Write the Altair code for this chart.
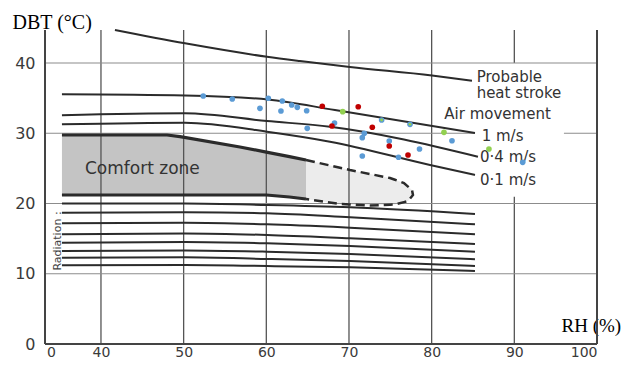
import altair as alt
import pandas as pd

# ---------------- data ----------------
X_MIN, X_MAX = 33.23, 100
Y_MIN, Y_MAX = 0, 44.7

X_TICKS = [33.96, 40, 50, 60, 70, 80, 90, 100]
Y_TICKS = [0, 10, 20, 30, 40]

HEAT_X = [41.69, 50.16, 60.08, 64.07, 70.12, 80.04, 84.88]
HEAT_Y = [44.70, 42.80, 40.89, 40.28, 39.43, 38.22, 37.48]

AIR1_X = [35.28, 50.16, 60.20, 68.30, 85.24]
AIR1_Y = [35.55, 35.38, 34.80, 33.31, 30.04]
AIR04_X = [35.28, 50.16, 60.08, 67.70, 85.60]
AIR04_Y = [32.56, 32.84, 31.74, 30.93, 26.66]
AIR01_X = [35.28, 50.16, 60.08, 67.70, 79.80, 85.24]
AIR01_Y = [31.27, 31.50, 30.22, 28.80, 25.48, 24.06]

COMFORT_X = [35.28, 48.0, 49.56, 56.81, 60.0, 62.8, 64.80]
COMFORT_TOP = [29.75, 29.75, 29.51, 28.05, 27.32, 26.68, 26.19]
COMFORT_BOT = [21.21, 21.21, 21.21, 21.21, 21.21, 20.93, 20.64]

ELL_X = [64.80, 68.91, 70.12, 72.54, 74.96, 75.56, 76.65, 77.14, 77.62, 77.74]
ELL_TOP = [26.19, 25.09, 24.77, 24.20, 23.63, 23.38, 22.92, 22.41, 21.92, 21.21]
ELL_BOT = [20.64, 19.93, 19.86, 19.72, 19.83, 19.86, 20.20, 20.36, 21.04, 21.21]

RAD_X = [35.28, 50.16, 60.08, 70.12, 85.24]
RAD_Y = [
    [20.00, 20.00, 19.79, 19.46, 18.51],
    [18.69, 18.75, 18.60, 18.04, 17.04],
    [17.18, 17.27, 17.04, 16.56, 15.62],
    [15.62, 15.73, 15.52, 15.05, 14.23],
    [14.42, 14.52, 14.33, 13.95, 13.14],
    [13.24, 13.31, 13.14, 12.81, 12.06],
    [12.28, 12.34, 12.10, 11.81, 11.10],
    [11.20, 11.25, 11.10, 10.92, 10.39],
]

BLUE_X = [52.37, 55.88, 59.23, 60.24, 61.93, 61.77, 63.07, 63.75, 64.88, 64.95, 68.25,
          71.85, 71.61, 71.61, 73.95, 74.87, 75.99, 77.38, 78.53, 82.46, 91.01]
BLUE_Y = [35.30, 34.88, 33.55, 34.98, 34.59, 33.17, 34.02, 33.69, 33.21, 30.70, 31.46,
          29.99, 29.37, 26.76, 31.89, 28.90, 26.58, 31.27, 27.76, 28.94, 25.86]
RED_X = [66.77, 67.94, 71.12, 72.82, 74.87, 77.14]
RED_Y = [33.84, 31.03, 33.78, 30.85, 28.19, 26.90]
GREEN_X = [69.24, 81.49, 86.93]
GREEN_Y = [33.07, 30.13, 27.76]
GREEN_INNER_X = [73.95, 77.38]
GREEN_INNER_Y = [31.89, 31.27]

LABELS = ["Probable", "heat stroke", "Air movement", "1  m/s", "0·4 m/s", "0·1 m/s"]
LABEL_X = [85.44, 85.44, 81.53, 86.05, 85.85, 85.85]
LABEL_Y = [38.05, 35.75, 32.74, 29.61, 26.55, 23.35]

# ---------------- helpers ----------------
xs = alt.Scale(domain=[X_MIN, X_MAX], nice=False, zero=False)
ys = alt.Scale(domain=[Y_MIN, Y_MAX], nice=False, zero=False)

X_AXIS = alt.Axis(
    values=X_TICKS, labelExpr="datum.value < 35 ? '0' : datum.label", format="d",
    grid=False, ticks=False, tickSize=0, domain=False, labelPadding=1,
    labelFont="DejaVu Sans", labelFontSize=14, labelColor="#3a3a3a",
    title="RH (%)", titleFont="Liberation Serif", titleFontSize=19, titleFontWeight="normal",
    titleColor="black", titleX=516, titleY=-13, titleAlign="left", titleBaseline="alphabetic")
Y_AXIS = alt.Axis(
    values=Y_TICKS, grid=False, ticks=False, tickSize=0, domain=False, labelPadding=10,
    labelFont="DejaVu Sans", labelFontSize=16, labelColor="#3a3a3a",
    title="DBT (°C)", titleAngle=0, titleFont="Liberation Serif", titleFontSize=20,
    titleFontWeight="normal", titleColor="black", titleX=-33, titleY=-2,
    titleAlign="left", titleBaseline="alphabetic")


def X(field="x"):
    return alt.X(f"{field}:Q", scale=xs, axis=X_AXIS)


def Y(field="y"):
    return alt.Y(f"{field}:Q", scale=ys, axis=Y_AXIS)


def series(name, xv, yv):
    return [{"s": name, "o": i, "x": a, "y": b} for i, (a, b) in enumerate(zip(xv, yv))]


# gridlines / frame
vgrid = []
for v in [40, 50, 60, 70, 80]:
    vgrid.append({"x": v, "x2": v, "y": Y_MIN, "y2": Y_MAX})
vgrid.append({"x": 90, "x2": 90, "y": 40, "y2": Y_MAX})
vgrid.append({"x": 90, "x2": 90, "y": Y_MIN, "y2": 20.97})
hgrid = []
for h in [10, 20, 40]:
    hgrid.append({"x": X_MIN, "x2": X_MAX, "y": h, "y2": h})
hgrid.append({"x": X_MIN, "x2": 85.24, "y": 30, "y2": 30})
hgrid.append({"x": 96.0, "x2": X_MAX, "y": 30, "y2": 30})
frame = [
    {"x": X_MIN, "x2": X_MIN, "y": Y_MIN, "y2": Y_MAX},
    {"x": X_MAX, "x2": X_MAX, "y": Y_MIN, "y2": Y_MAX},
    {"x": X_MIN, "x2": X_MAX, "y": Y_MIN, "y2": Y_MIN},
]

comfort_fill = alt.Chart(pd.DataFrame({"x": COMFORT_X, "y": COMFORT_TOP, "y2": COMFORT_BOT})).mark_area(
    color="#c4c4c4").encode(x=X(), y=Y(), y2="y2:Q")
ell_fill = alt.Chart(pd.DataFrame({"x": ELL_X, "y": ELL_TOP, "y2": ELL_BOT})).mark_area(
    color="#ececec").encode(x=X(), y=Y(), y2="y2:Q")

vg = alt.Chart(pd.DataFrame(vgrid)).mark_rule(color="#555555", strokeWidth=1.3).encode(
    x=X(), x2="x2:Q", y=Y(), y2="y2:Q")
hg = alt.Chart(pd.DataFrame(hgrid)).mark_rule(color="#8c8c8c", strokeWidth=1.2).encode(
    x=X(), x2="x2:Q", y=Y(), y2="y2:Q")
fr = alt.Chart(pd.DataFrame(frame)).mark_rule(color="#444444", strokeWidth=2).encode(
    x=X(), x2="x2:Q", y=Y(), y2="y2:Q")

curves = pd.DataFrame(
    series("heat", HEAT_X, HEAT_Y) + series("a1", AIR1_X, AIR1_Y)
    + series("a04", AIR04_X, AIR04_Y) + series("a01", AIR01_X, AIR01_Y)
    + sum([series(f"r{i}", RAD_X, r) for i, r in enumerate(RAD_Y)], [])
)
curve_layer = alt.Chart(curves).mark_line(color="#2b2b2b", strokeWidth=2, interpolate="monotone").encode(
    x=X(), y=Y(), detail="s:N", order="o:Q")

comfort_lines = pd.DataFrame(series("top", COMFORT_X, COMFORT_TOP) + series("bot", COMFORT_X, COMFORT_BOT))
comfort_layer = alt.Chart(comfort_lines).mark_line(color="#2b2b2b", strokeWidth=3.2).encode(
    x=X(), y=Y(), detail="s:N", order="o:Q")

dash_x = ELL_X + ELL_X[::-1][1:]
dash_y = ELL_TOP + ELL_BOT[::-1][1:]
dash_layer = alt.Chart(pd.DataFrame(series("d", dash_x, dash_y))).mark_line(
    color="#2b2b2b", strokeWidth=2.5, strokeDash=[9, 5]).encode(x=X(), y=Y(), order="o:Q")

labels = alt.Chart(pd.DataFrame({"t": LABELS, "x": LABEL_X, "y": LABEL_Y})).mark_text(
    align="left", baseline="middle", font="DejaVu Sans", fontSize=15, color="#333333").encode(
    x=X(), y=Y(), text="t:N")
comfort_text = alt.Chart(pd.DataFrame({"t": ["Comfort zone"], "x": [38.06], "y": [24.91]})).mark_text(
    align="left", baseline="middle", font="DejaVu Sans", fontSize=17, color="#333333").encode(
    x=X(), y=Y(), text="t:N")
rad_text = alt.Chart(pd.DataFrame({"t": ["Radiation :"], "x": [34.8], "y": [14.66]})).mark_text(
    align="center", baseline="middle", font="DejaVu Sans", fontSize=11, color="#444444", angle=270).encode(
    x=X(), y=Y(), text="t:N")

blue = alt.Chart(pd.DataFrame({"x": BLUE_X, "y": BLUE_Y})).mark_circle(size=32, color="#5b9bd5", opacity=1).encode(x=X(), y=Y())
red = alt.Chart(pd.DataFrame({"x": RED_X, "y": RED_Y})).mark_circle(size=32, color="#c00000", opacity=1).encode(x=X(), y=Y())
green = alt.Chart(pd.DataFrame({"x": GREEN_X, "y": GREEN_Y})).mark_circle(size=32, color="#92d050", opacity=1).encode(x=X(), y=Y())
green_in = alt.Chart(pd.DataFrame({"x": GREEN_INNER_X, "y": GREEN_INNER_Y})).mark_circle(size=8, color="#92d050", opacity=1).encode(x=X(), y=Y())

chart = alt.layer(
    comfort_fill, ell_fill, vg, hg, fr, curve_layer, comfort_layer, dash_layer,
    labels, comfort_text, rad_text, blue, red, green, green_in
).properties(
    width=552, height=314,
    autosize=alt.AutoSizeParams(type="none"),
    padding={"left": 37, "top": 22, "right": 26, "bottom": 15},
    background="white",
).configure_view(stroke=None)

chart.save("out.html", embed_options={"renderer": "svg", "actions": False})
